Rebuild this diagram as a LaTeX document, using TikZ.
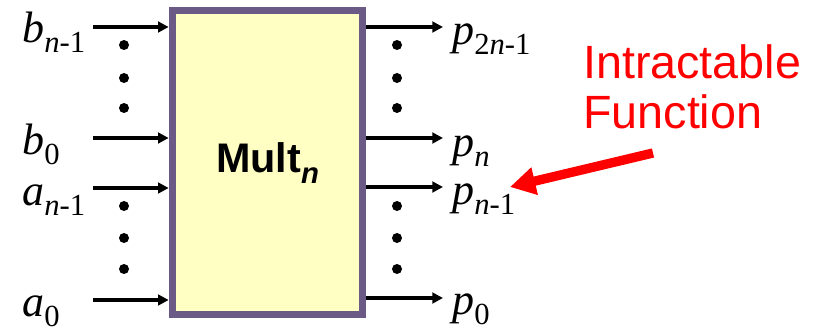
\documentclass[tikz,border=0pt]{standalone}
\usepackage{fontspec}
\setmainfont{Liberation Serif}
\setsansfont{Liberation Sans}
\usetikzlibrary{arrows.meta,positioning}

\definecolor{boxborder}{RGB}{107,90,133}
\definecolor{boxfill}{RGB}{255,255,196}

% lowered subscript (size, drop, text)
\newcommand{\lowsub}[3]{{\fontsize{#1}{#1}\selectfont\raisebox{-#2}{#3}}}
\newcommand{\pinlabel}[2]{\textit{#1}\lowsub{23pt}{7.5pt}{#2}}

\begin{document}
\begin{tikzpicture}[
    x=0.75pt, y=-0.75pt,
    port/.style={line width=2.4pt, -{Triangle[length=8pt,width=8pt]}},
    pin/.style={anchor=base west, inner sep=0pt, font=\fontsize{33pt}{33pt}\selectfont},
    dot/.style={fill=black, circle, inner sep=0pt, minimum size=7.5pt},
    multbox/.style={draw=boxborder, fill=boxfill, line width=5.25pt, minimum width=143pt, minimum height=228pt, font=\sffamily\bfseries\fontsize{31pt}{31pt}\selectfont}
]
    \useasboundingbox (0,0) rectangle (821,331);

    \node[multbox] (mult) at (267.5,163) {Mult\lowsub{22pt}{8pt}{\textit{n}}};

    % input and output ports
    \foreach \yy/\nm in {27/hb, 138/lb, 188/ha, 300/la} {
        \coordinate (in\nm) at (93,\yy);
        \draw[port] (in\nm) -- (in\nm -| mult.west);
    }
    \foreach \yy/\nm in {27/hp, 138/mp, 187/np, 298/lp} {
        \coordinate (out\nm) at (443,\yy);
        \draw[port] (out\nm -| mult.east) -- (out\nm);
    }

    % ellipsis dots
    \foreach \yy in {45,78,108,206,238,269} {
        \node[dot] (ldot\yy) at (124,\yy) {};
        \node[dot] (rdot\yy) at (397,\yy) {};
    }

    \node[pin] (bhi) at (22,43) {\pinlabel{b}{\textit{n}-1}};
    \node[pin] (blo) at (22,155) {\pinlabel{b}{0}};
    \node[pin] (ahi) at (22,206) {\pinlabel{a}{\textit{n}-1}};
    \node[pin] (alo) at (22,316) {\pinlabel{a}{0}};

    \node[pin] (phi) at (452,45) {\pinlabel{p}{2\textit{n}-1}};
    \node[pin] (pmid) at (452,157) {\pinlabel{p}{\textit{n}}};
    \node[pin] (pn1) at (452,205) {\pinlabel{p}{\textit{n}-1}};
    \node[pin] (plo) at (452,315) {\pinlabel{p}{0}};

    % note
    \node[anchor=north west, inner sep=0pt, align=left, text=red,
          font=\sffamily\fontsize{35pt}{37.5pt}\selectfont] (note) at (583,44) {Intractable\\Function};
    \coordinate (tail) at (653,153);
    \coordinate (tip) at (510,187);
    \draw[red, line width=7pt, -{Triangle[length=19pt,width=20pt]}] (tail) -- (tip);
\end{tikzpicture}
\end{document}
